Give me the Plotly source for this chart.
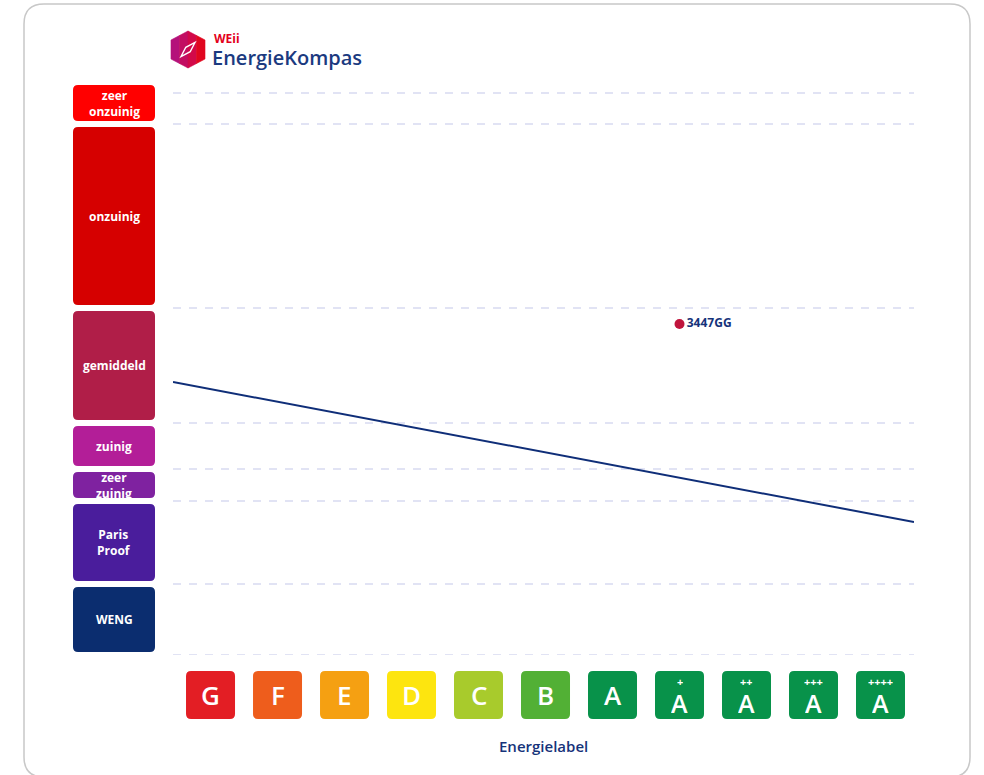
import plotly.graph_objects as go

# energy label categories along the x axis
labels = ["G", "F", "E", "D", "C", "B", "A", "A+", "A++", "A+++", "A++++"]
label_colors = ["#e31e24", "#ee5d1c", "#f5a012", "#fde50f", "#a8cb2c", "#52b035",
                "#08924a", "#08924a", "#08924a", "#08924a", "#08924a"]

# consumption bands on the left (low / high bound per band)
band_names = ["WENG", "Paris<br>Proof", "zeer<br>zuinig", "zuinig", "gemiddeld", "onzuinig", "zeer<br>onzuinig"]
band_low = [0, 71, 154, 186, 232, 347, 531]
band_high = [71, 154, 186, 232, 347, 531, 573]
band_colors = ["#0b2d6f", "#4a1d9c", "#7f22a0", "#b31e98", "#b01e48", "#d60000", "#ff0000"]

grid_values = [0, 71, 154, 186, 232, 347, 531, 562]

# trend line and the single address point
trend_x = [-0.56, 10.5]
trend_y = [273, 133]
point_x = [7]
point_y = [331]
point_name = ["3447GG"]

NAVY = "#16337a"
FONT = "Open Sans"

W, H = 984, 775
L, R, T, B = 173, 70, 80, 120
y_range = [0, H - T - B]


def rounded(x0, y0, x1, y1, r):
    # rounded rectangle path (coordinates already in the shape's units)
    xa, xb = min(x0, x1), max(x0, x1)
    ya, yb = min(y0, y1), max(y0, y1)
    return (f"M {xa + r},{ya} L {xb - r},{ya} Q {xb},{ya} {xb},{ya + r} "
            f"L {xb},{yb - r} Q {xb},{yb} {xb - r},{yb} L {xa + r},{yb} "
            f"Q {xa},{yb} {xa},{yb - r} L {xa},{ya + r} Q {xa},{ya} {xa + r},{ya} Z")


fig = go.Figure()

fig.add_trace(go.Scatter(
    x=trend_x, y=trend_y, mode="lines",
    line=dict(color="#0f2e78", width=2), hoverinfo="skip", showlegend=False,
))
fig.add_trace(go.Scatter(
    x=point_x, y=point_y, mode="markers+text", text=point_name,
    textposition="middle right",
    textfont=dict(color=NAVY, size=12, family=FONT, weight=700),
    marker=dict(color="#c0143c", size=10), showlegend=False,
))

shapes = []
annotations = []

# card border (pixel offsets from plot top-left)
shapes.append(dict(
    type="path", xref="paper", yref="paper", xsizemode="pixel", ysizemode="pixel",
    xanchor=0, yanchor=1, path=rounded(24 - L, T - 4, 970 - L, T - 777, 20),
    line=dict(color="#c8c8c8", width=1.5), fillcolor="rgba(0,0,0,0)", layer="below",
))

# dashed grid lines
for v in grid_values:
    shapes.append(dict(
        type="line", xref="paper", yref="y", x0=0, x1=1, y0=v, y1=v,
        line=dict(color="#c4c7ea", width=1.2, dash="8px,8px"), layer="below",
    ))

# left band boxes
for lo, hi, col, name in zip(band_low, band_high, band_colors, band_names):
    shapes.append(dict(
        type="path", xref="paper", yref="y", xsizemode="pixel", xanchor=0,
        path=rounded(-100, lo + 3, -18, hi - 3, 5),
        fillcolor=col, line=dict(width=0),
    ))
    annotations.append(dict(
        x=0, xref="paper", xshift=-59, xanchor="center",
        y=(lo + hi) / 2, yref="y", yanchor="middle", text=name,
        showarrow=False, font=dict(color="white", size=12, family=FONT, weight=700),
    ))

# energy label tiles
for i, (lab, col) in enumerate(zip(labels, label_colors)):
    shapes.append(dict(
        type="path", xref="x", yref="paper", xsizemode="pixel", ysizemode="pixel",
        xanchor=i, yanchor=0, path=rounded(-24.5, -16, 24.5, -64, 5),
        fillcolor=col, line=dict(width=0),
    ))
    plus = lab[1:]
    if plus:
        annotations.append(dict(
            x=i, xref="x", xanchor="center", y=0, yref="paper", yanchor="middle",
            yshift=-48, text=lab[0], showarrow=False, height=22, borderpad=0,
            font=dict(color="white", size=25, family=FONT, weight=600),
        ))
        annotations.append(dict(
            x=i, xref="x", xanchor="center", y=0, yref="paper", yanchor="middle",
            yshift=-26, text=plus, showarrow=False, height=9, borderpad=0,
            font=dict(color="white", size=11, family=FONT, weight=700),
        ))
    else:
        annotations.append(dict(
            x=i, xref="x", xanchor="center", y=0, yref="paper", yanchor="middle",
            yshift=-40, text=lab, showarrow=False,
            font=dict(color="white", size=26, family=FONT, weight=600),
        ))

annotations.append(dict(
    x=0.5, xref="paper", xanchor="center", y=0, yref="paper", yanchor="middle",
    yshift=-91, text="Energielabel",
    showarrow=False, font=dict(color=NAVY, size=15, family=FONT, weight=600),
))

# logo: hexagon with a pseudo gradient made of vertical slices
cx, cy = 188 - L, T - 49.5
hw, hh, hs = 17, 18.5, 9.5
cuts = [-17, -8.5, 0, 8.5, 17]
slice_cols = ["#b4117a", "#c20d62", "#d20949", "#e0061f"]


def y_top(x):
    return hh - (hh - hs) * abs(x) / hw


for a, b, col in zip(cuts[:-1], cuts[1:], slice_cols):
    p = (f"M {cx + a},{cy + y_top(a)} L {cx + b},{cy + y_top(b)} "
         f"L {cx + b},{cy - y_top(b)} L {cx + a},{cy - y_top(a)} Z")
    shapes.append(dict(
        type="path", xref="paper", yref="paper", xsizemode="pixel", ysizemode="pixel",
        xanchor=0, yanchor=1, path=p, fillcolor=col, line=dict(color=col, width=0.6),
    ))
shapes.append(dict(
    type="path", xref="paper", yref="paper", xsizemode="pixel", ysizemode="pixel",
    xanchor=0, yanchor=1,
    path=f"M {cx - 7},{cy - 7} L {cx - 2.2},{cy + 2.2} L {cx + 7},{cy + 7} L {cx + 2.2},{cy - 2.2} Z",
    line=dict(color="white", width=1.4), fillcolor="rgba(0,0,0,0)",
))
annotations.append(dict(
    x=0, xref="paper", xshift=212 - L, y=1, yref="paper", yshift=T - 38,
    xanchor="left", yanchor="middle", text="WEii", showarrow=False,
    font=dict(color="#e3001b", size=12, family=FONT, weight=700),
))
annotations.append(dict(
    x=0, xref="paper", xshift=210 - L, y=1, yref="paper", yshift=T - 57,
    xanchor="left", yanchor="middle", text="EnergieKompas", showarrow=False,
    font=dict(color="#1b3a80", size=20, family=FONT, weight=600),
))

fig.update_layout(
    width=W, height=H,
    margin=dict(l=L, r=R, t=T, b=B),
    paper_bgcolor="white", plot_bgcolor="white",
    shapes=shapes, annotations=annotations,
    xaxis=dict(range=[-0.56, 10.5], showgrid=False, zeroline=False,
               showticklabels=False, tickvals=list(range(len(labels)))),
    yaxis=dict(range=y_range, showgrid=False, zeroline=False, showticklabels=False),
    font=dict(family=FONT),
)

# drop the browser's default body margin so the figure sits at the page corner
fig.write_html("out.html", config={"displayModeBar": False},
               post_script="document.body.style.margin = '0';")
